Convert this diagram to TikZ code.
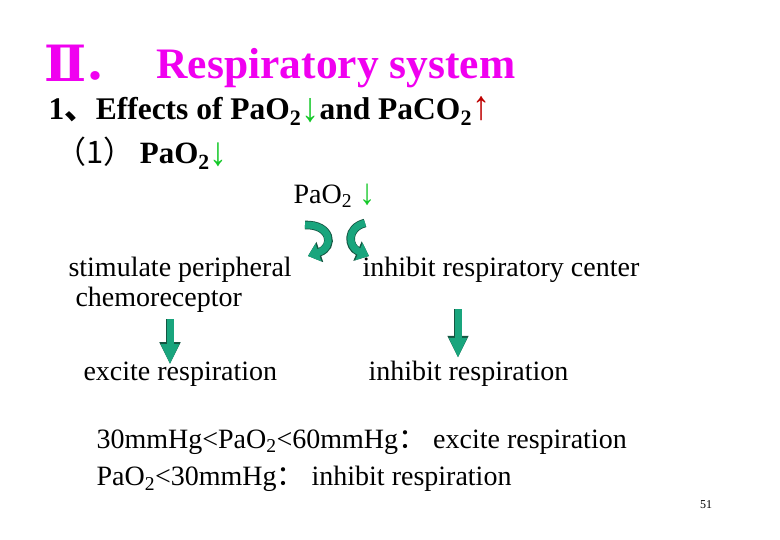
\documentclass[tikz,border=0pt]{standalone}
\usepackage{fontspec}
\setmainfont{Liberation Serif}
\newfontfamily\cjk{Noto Sans CJK SC}
\newfontfamily\numfont{DejaVu Serif}
\usepackage{tikz}
\usetikzlibrary{arrows.meta,positioning,calc}
\definecolor{titlemag}{RGB}{240,0,240}
\definecolor{fall}{RGB}{20,200,40}
\definecolor{rise}{RGB}{190,0,0}
\definecolor{arrowgreen}{RGB}{25,165,125}
\definecolor{arrowedge}{RGB}{20,85,65}
\newcommand{\two}{\textsubscript{2}}
\newcommand{\dn}{{\color{fall}\raisebox{-0.12ex}{\bfseries\scalebox{1.15}[1.3]{↓}}}}
\newcommand{\rs}{{\color{rise}\raisebox{0.02ex}{\bfseries\scalebox{1.15}[1.3]{↑}}}}
\tikzset{
  dropbar/.style={line width=7pt,draw=arrowgreen,-{Triangle[width=17pt,length=20pt]},
    preaction={draw=arrowedge,line width=8.6pt,-{Triangle[width=19.5pt,length=22pt]}}},
  curl/.style={line width=7pt,draw=arrowgreen,-{Triangle[width=18pt,length=11pt]},
    preaction={draw=arrowedge,line width=8.6pt,-{Triangle[width=20.5pt,length=12.5pt]}}}
}

\begin{document}
\begin{tikzpicture}[x=1pt,y=-1pt,font=\fontsize{28}{31}\selectfont]
\useasboundingbox (0,0) rectangle (780,540);
% heading
\node[anchor=west,inner sep=0pt,font=\numfont\bfseries\fontsize{50}{54}\selectfont,text=titlemag] (roman) at (44,63) {Ⅱ};
\node[anchor=west,font=\cjk\bfseries\fontsize{40}{44}\selectfont,text=titlemag] (dot) at (80,77) {．};
\node[anchor=west,font=\bfseries\fontsize{43.5}{48}\selectfont,text=titlemag] (title) at (153,68) {Respiratory system};
\node[anchor=west,font=\bfseries\fontsize{31.5}{35}\selectfont] (effects) at (45,111)
  {1{\cjk 、}Effects of PaO\two\dn and PaCO\two\rs};
\node[anchor=west,font=\bfseries\fontsize{31}{35}\selectfont] (case) at (52,153)
  {{\cjk\mdseries （1）}\,PaO\two\dn};
% two branches
\node[anchor=west] (pao) at (290,196) {PaO\two\ \dn};
\node[anchor=west] (stim)   at (65,270)  {stimulate peripheral};
\node[anchor=west] (chemo)  at (72,300)  {chemoreceptor};
\node[anchor=west] (inhib)  at (359,270) {inhibit respiratory center};
\node[anchor=west] (excite) at (80,374)  {excite respiration};
\node[anchor=west] (inresp) at (365,374) {inhibit respiration};
\coordinate (lcs) at (305,225); \coordinate (lce) at (308,256);
\coordinate (rcs) at (365,223); \coordinate (rce) at (369,256);
\draw[curl] (lcs) .. controls (331,224) and (335,247) .. (lce);
\draw[curl] (rcs) .. controls (346,228) and (348,247) .. (rce);
\coordinate (la) at (170,0);
\coordinate (ra) at (458,0);
\draw[dropbar,shorten <=3pt,shorten >=-6pt] (chemo.south -| la) -- (excite.north -| la);
\draw[dropbar,shorten <=23pt] (inhib.south -| ra) -- (inresp.north -| ra);
% thresholds
\node[anchor=west] (range) at (93,442) {30mmHg<PaO\two<60mmHg{\cjk ：}\ excite respiration};
\node[anchor=west] (low)   at (93,479) {PaO\two<30mmHg{\cjk ：}\ inhibit respiration};
\node[font=\fontsize{12}{14}\selectfont] (page) at (706,505) {51};
\end{tikzpicture}
\end{document}
